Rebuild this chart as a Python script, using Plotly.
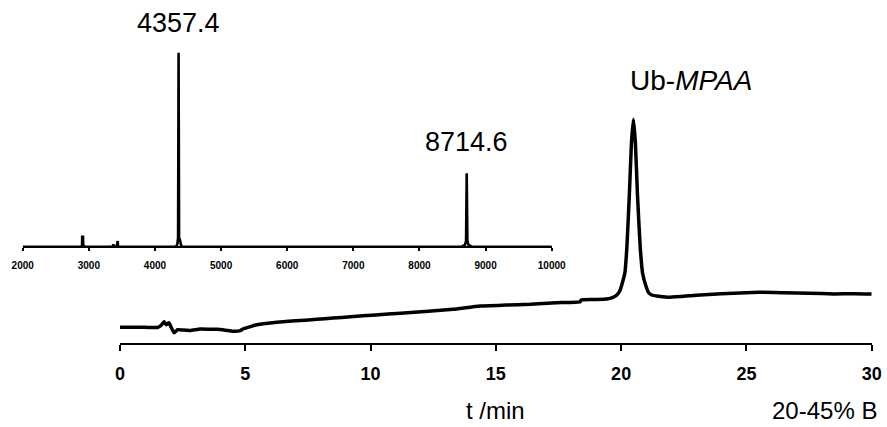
import plotly.graph_objects as go

W, H = 887, 427

# HPLC chromatogram (time in min, absorbance in arbitrary units)
hplc_t = [0.0, 0.5, 1.0, 1.5, 1.6, 1.7, 1.76, 1.85, 1.95, 2.05, 2.16, 2.3, 2.5, 2.8,
          3.2, 3.6, 3.87, 4.2, 4.5, 4.8, 4.9, 5.2, 5.46, 6.0, 6.5, 7.2, 7.85, 8.5,
          9.2, 10.2, 11.2, 12.3, 13.3, 14.37, 15.4, 16.37, 17.4, 18.37, 18.4, 18.9,
          19.43, 19.65, 19.83, 19.95, 20.05, 20.15, 20.23, 20.33, 20.41, 20.49,
          20.57, 20.65, 20.76, 20.86, 21.0, 21.1, 21.22, 21.5, 21.95, 23.0, 24.0,
          25.5, 26.5, 27.5, 28.5, 29.3, 30.0]
hplc_a = [15.5, 15.5, 15.4, 15.2, 16.5, 19.0, 21.0, 18.0, 20.0, 15.0, 10.0, 13.0, 12.7, 12.2,
          13.7, 13.4, 13.4, 12.5, 11.4, 12.0, 13.7, 16.0, 18.0, 19.8, 21.0, 22.2, 23.4, 24.6,
          26.0, 27.8, 29.4, 31.5, 33.5, 36.7, 37.6, 38.4, 40.0, 41.0, 42.7, 43.2,
          43.7, 45.0, 47.7, 52.0, 60.0, 70.0, 96.0, 149.0, 199.0, 223.4,
          199.0, 149.0, 96.0, 69.0, 56.0, 50.0, 47.7, 46.5, 45.4, 47.5, 49.0,
          50.4, 50.0, 49.5, 48.7, 49.0, 48.7]

# ESI-MS deconvoluted spectrum (m/z, intensity a.u.)
ms_mz = [2000, 2890, 2897, 2900, 2912, 2915, 2922, 3360, 3366, 3371, 3376, 3382,
         3420, 3425, 3431, 3437, 3442, 4320, 4340, 4350, 4357.4, 4365, 4380, 4400,
         8640, 8690, 8705, 8714.6, 8725, 8740, 8790, 10000]
ms_int = [0, 0, 0, 10, 10, 3, 0, 0, 1, 2.4, 1, 0,
          0, 2, 5.7, 5.7, 0, 0, 3, 9, 194, 9, 6, 0,
          0, 2, 6, 73.4, 6, 2, 0, 0]

main_ticks = [0, 5, 10, 15, 20, 25, 30]
ms_ticks = [2000, 3000, 4000, 5000, 6000, 7000, 8000, 9000, 10000]
ms_ticktext = [str(v) for v in ms_ticks]

FONT = "Liberation Sans, Arial, sans-serif"

fig = go.Figure()
fig.add_trace(go.Scatter(x=hplc_t, y=hplc_a, mode="lines",
                         line=dict(color="black", width=3.5, shape="spline", smoothing=0.4),
                         xaxis="x", yaxis="y", showlegend=False, hoverinfo="skip"))
fig.add_trace(go.Scatter(x=ms_mz, y=ms_int, mode="lines",
                         line=dict(color="black", width=2.6),
                         xaxis="x2", yaxis="y2", showlegend=False, hoverinfo="skip"))

def py(px):
    return 1 - px / H

fig.update_layout(
    template="none",
    width=W, height=H, autosize=False,
    margin=dict(l=0, r=0, t=0, b=0, pad=0, autoexpand=False),
    paper_bgcolor="white", plot_bgcolor="rgba(0,0,0,0)",
    font=dict(family=FONT, color="black"),
    xaxis=dict(domain=[120 / W, 871.7 / W], range=[0, 30], tickvals=main_ticks,
               showgrid=False, zeroline=False, showline=True, linecolor="black",
               linewidth=2, ticks="outside", ticklen=6, tickwidth=2, tickcolor="black",
               tickfont=dict(size=18, weight="bold", family=FONT, color="black"),
               ticklabelstandoff=8, anchor="y", automargin=False),
    yaxis=dict(domain=[py(342.7), py(92.7)], range=[0, 250], visible=False,
               automargin=False),
    xaxis2=dict(domain=[22.7 / W, 551.7 / W], range=[2000, 10000], tickvals=ms_ticks,
                ticktext=ms_ticktext,
                showgrid=False, zeroline=False, showline=True, linecolor="black",
                linewidth=2, ticks="outside", ticklen=3, tickwidth=1.5, tickcolor="black",
                tickfont=dict(size=10, weight="bold", family=FONT, color="black"),
                ticklabelstandoff=6, anchor="free", position=py(246.7), automargin=False),
    yaxis2=dict(domain=[py(251.7), py(46.7)], range=[-5, 200], visible=False,
                automargin=False),
    annotations=[
        dict(text="4357.4", x=4357.4, xref="x2", y=py(23), yref="paper",
             showarrow=False, font=dict(size=27, family=FONT, color="black"),
             xanchor="center", yanchor="middle"),
        dict(text="8714.6", x=8714.6, xref="x2", y=py(142), yref="paper",
             showarrow=False, font=dict(size=27, family=FONT, color="black"),
             xanchor="center", yanchor="middle"),
        dict(text="Ub-<i>MPAA</i>", x=691 / W, xref="paper", y=py(80), yref="paper",
             showarrow=False, font=dict(size=28, family=FONT, color="black"),
             xanchor="center", yanchor="middle"),
        dict(text="t /min", x=15, xref="x", y=py(410), yref="paper",
             showarrow=False, font=dict(size=24, family=FONT, color="black"),
             xanchor="center", yanchor="middle"),
        dict(text="20-45% B", x=824 / W, xref="paper", y=py(410), yref="paper",
             showarrow=False, font=dict(size=24, family=FONT, color="black"),
             xanchor="center", yanchor="middle"),
    ],
)

fig.write_html("out.html")
